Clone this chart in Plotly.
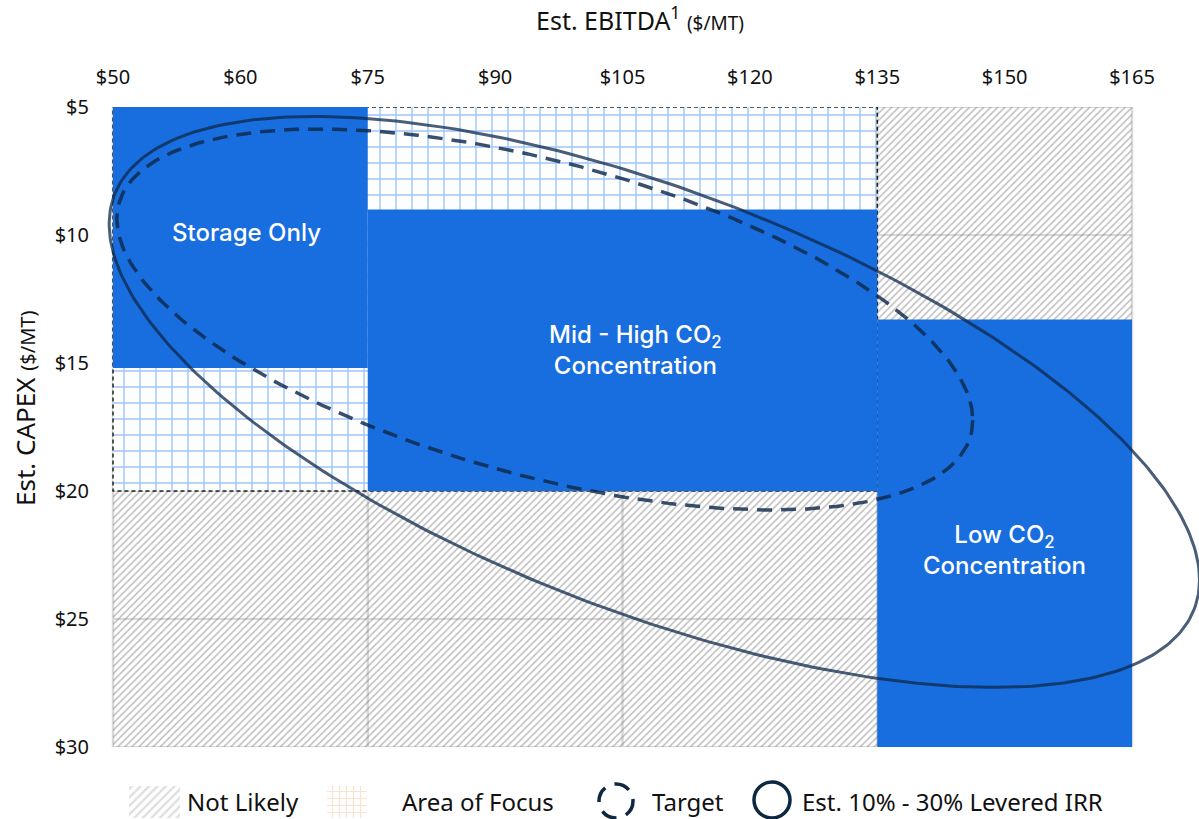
import numpy as np
import plotly.graph_objects as go

# Ejes: EBITDA estimado (etiquetas equiespaciadas) y CAPEX estimado
ebitda_ticks = ["$50", "$60", "$75", "$90", "$105", "$120", "$135", "$150", "$165"]
ebitda_grid = ["$50", "$75", "$105", "$135", "$165"]
capex_ticks = [5, 10, 15, 20, 25, 30]

# Zonas azules
zone_labels = [
    "Storage Only",
    "Mid - High CO<sub>2</sub><br>Concentration",
    "Low CO<sub>2</sub><br>Concentration",
]
zone_ebitda_from = ["$50", "$75", "$135"]
zone_ebitda_to = ["$75", "$135", "$165"]
zone_capex_from = [5, 9, 13.3]
zone_capex_to = [15.2, 20, 30]

# Area of focus
focus_ebitda = ["$50", "$135"]
focus_capex = [5, 20]

# Elipses: centro (indice ebitda, capex), semiancho, semialto y
# desplazamiento vertical en el extremo derecho
target_ellipse = dict(cx=3.39, cy=13.30, w=3.36, h=7.44, k=3.93)
irr_ellipse = dict(cx=4.25, cy=16.52, w=4.28, h=11.15, k=6.95)

legend_labels = ["Not Likely", "Area of Focus", "Target", "Est. 10% - 30% Levered IRR"]

BLUE = "#186EDF"
NAVY = "#0E2841"
GRID = "#D9D9D9"
FONT = "Noto Sans"

W, H = 1199, 819
X0_PX, X8_PX = 113, 1132
PX_PER_X = (X8_PX - X0_PX) / (len(ebitda_ticks) - 1)

xi = {lab: i for i, lab in enumerate(ebitda_ticks)}


def rect(x0, x1, y0, y1):
    return [x0, x1, x1, x0, x0], [y0, y0, y1, y1, y0]


def ellipse_xy(e, n=360):
    t = np.linspace(0, 2 * np.pi, n)
    d = np.arccos(e["k"] / e["h"])
    return e["cx"] + e["w"] * np.cos(t), e["cy"] + e["h"] * np.cos(t - d)


fig = go.Figure()

# fondo rayado "Not Likely"
hx, hy = rect(0, len(ebitda_ticks) - 1, capex_ticks[0], capex_ticks[-1])
fig.add_trace(
    go.Scatter(
        x=hx, y=hy, mode="lines", fill="toself", line=dict(width=0),
        fillpattern=dict(shape="/", fgcolor="#7C7C7C", bgcolor="rgba(0,0,0,0)",
                         size=5, solidity=0.3),
        hoverinfo="skip", showlegend=False,
    )
)

# area de foco
fx, fy = rect(xi[focus_ebitda[0]], xi[focus_ebitda[1]], focus_capex[0], focus_capex[1])
fig.add_trace(
    go.Scatter(
        x=fx, y=fy, mode="lines", fill="toself",
        line=dict(color="#222222", width=1.5, dash="4px,3px"),
        fillpattern=dict(shape="+", fgcolor="#3C8DF5", bgcolor="white",
                         size=16, solidity=0.17),
        hoverinfo="skip", showlegend=False,
    )
)

# zonas azules
for a, b, c, d in zip(zone_ebitda_from, zone_ebitda_to, zone_capex_from, zone_capex_to):
    zx, zy = rect(xi[a], xi[b], c, d)
    fig.add_trace(
        go.Scatter(
            x=zx, y=zy, mode="lines", fill="toself", fillcolor=BLUE,
            line=dict(width=0), hoverinfo="skip", showlegend=False,
        )
    )

# elipses
ex, ey = ellipse_xy(target_ellipse)
fig.add_trace(
    go.Scatter(
        x=ex, y=ey, mode="lines",
        line=dict(color="rgba(14,40,75,0.82)", width=3.5, dash="15px,9px"),
        hoverinfo="skip", showlegend=False,
    )
)
ex, ey = ellipse_xy(irr_ellipse)
fig.add_trace(
    go.Scatter(
        x=ex, y=ey, mode="lines",
        line=dict(color="rgba(14,40,75,0.75)", width=3),
        hoverinfo="skip", showlegend=False,
    )
)

# etiquetas de zonas
shifts = [(6, 5), (13, 0), (0, -17)]
for lab, a, b, c, d, (dx, dy) in zip(zone_labels, zone_ebitda_from, zone_ebitda_to,
                                      zone_capex_from, zone_capex_to, shifts):
    fig.add_annotation(
        x=(xi[a] + xi[b]) / 2, y=(c + d) / 2, text=lab, showarrow=False,
        xshift=dx, yshift=dy,
        font=dict(family="Inter", size=24, color="white", weight=500),
    )

# rejilla
shapes = []
for lab in ebitda_grid:
    shapes.append(dict(type="line", xref="x", yref="y", x0=xi[lab], x1=xi[lab],
                       y0=capex_ticks[0], y1=capex_ticks[-1],
                       line=dict(color=GRID, width=2.5), layer="below"))
for v in capex_ticks:
    shapes.append(dict(type="line", xref="x", yref="y", x0=0, x1=len(ebitda_ticks) - 1,
                       y0=v, y1=v, line=dict(color=GRID, width=2), layer="below"))

# leyenda hecha a mano (franja inferior, coordenadas en pixeles)
lx, ly = rect(129, 180, 786, 818)
fig.add_trace(
    go.Scatter(
        x=lx, y=ly, xaxis="x2", yaxis="y2", mode="lines", fill="toself",
        line=dict(width=0),
        fillpattern=dict(shape="/", fgcolor="#BDBDBD", bgcolor="white", size=6, solidity=0.38),
        hoverinfo="skip", showlegend=False,
    )
)
lx, ly = rect(327, 367, 786, 818)
fig.add_trace(
    go.Scatter(
        x=lx, y=ly, xaxis="x2", yaxis="y2", mode="lines", fill="toself",
        line=dict(width=0),
        fillpattern=dict(shape="+", fgcolor="#F6C6A4", bgcolor="white", size=7, solidity=0.3),
        hoverinfo="skip", showlegend=False,
    )
)
shapes.append(dict(type="circle", xref="x2", yref="y2", x0=599, x1=633, y0=784, y1=818,
                   line=dict(color=NAVY, width=3.5, dash="16px,10px")))
shapes.append(dict(type="circle", xref="x2", yref="y2", x0=754, x1=790, y0=782, y1=818,
                   line=dict(color=NAVY, width=3.5)))

for txt, x in zip(legend_labels, [185, 400, 650, 800]):
    fig.add_annotation(
        x=x, y=801, xref="x2", yref="y2", text=txt, showarrow=False,
        xanchor="left", yanchor="middle",
        font=dict(family=FONT, size=24, color="#111111"),
    )

# titulos de ejes
fig.add_annotation(
    x=640 / W, y=1 - 18 / H, xref="paper", yref="paper",
    xanchor="center", yanchor="middle", showarrow=False,
    text="Est. EBITDA<sup>1</sup> <span style='font-size:19px'>($/MT)</span>",
    font=dict(family=FONT, size=25, color="#111111"),
)
fig.add_annotation(
    x=25 / W, y=1 - 409 / H, xref="paper", yref="paper",
    xanchor="center", yanchor="middle", showarrow=False,
    text="Est. CAPEX <span style='font-size:20px'>($/MT)</span>", textangle=-90,
    font=dict(family=FONT, size=26, color="#111111"),
)

fig.update_layout(
    width=W, height=H,
    margin=dict(l=0, r=0, t=0, b=0),
    paper_bgcolor="white", plot_bgcolor="white",
    font=dict(family=FONT, color="#111111"),
    shapes=shapes,
    xaxis=dict(
        domain=[100 / W, 1],
        range=[(100 - X0_PX) / PX_PER_X, (W - X0_PX) / PX_PER_X],
        tickvals=list(range(len(ebitda_ticks))), ticktext=ebitda_ticks,
        side="top", showgrid=False, zeroline=False, showline=False, ticks="",
        automargin=False,
        ticklabelstandoff=18, tickfont=dict(size=20, family=FONT, color="#111111"),
    ),
    yaxis=dict(
        domain=[(H - 747) / H, (H - 107) / H],
        range=[capex_ticks[-1], capex_ticks[0]],
        tickvals=capex_ticks, ticktext=[f"${v}" for v in capex_ticks],
        showgrid=False, zeroline=False, showline=False, ticks="",
        automargin=False,
        ticklabelstandoff=10, tickfont=dict(size=20, family=FONT, color="#111111"),
    ),
    xaxis2=dict(domain=[0, 1], range=[0, W], anchor="y2", visible=False),
    yaxis2=dict(domain=[0, 45 / H], range=[H, H - 45], anchor="x2", visible=False),
)

# sin margen en <body> para que la figura ocupe justo la ventana
fig.write_html(
    "out.html",
    config={"displayModeBar": False},
    post_script="document.body.style.margin='0';document.body.style.overflow='hidden';",
)
